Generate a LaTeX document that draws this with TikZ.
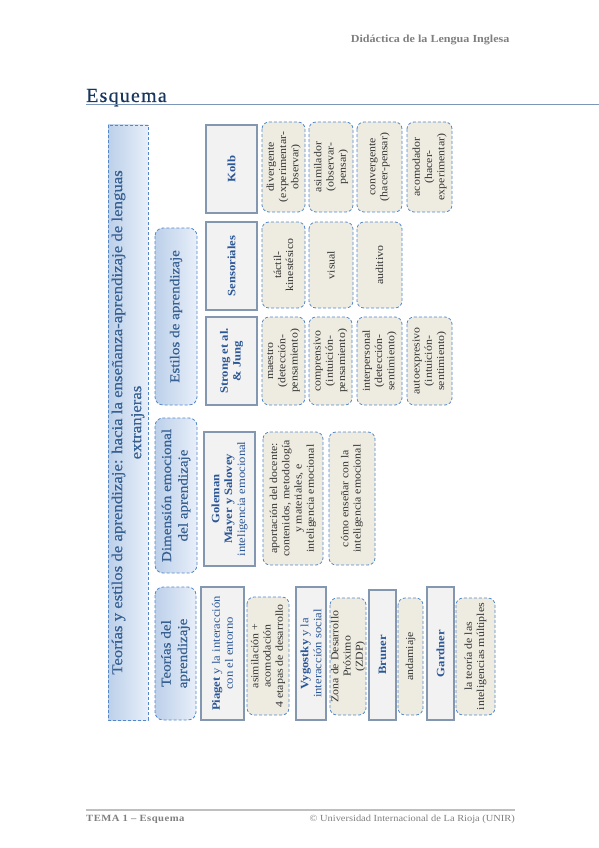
\documentclass[tikz,border=0pt]{standalone}
\usepackage{fontspec}
\setmainfont{Liberation Serif}[FakeStretch=1.12]
\newfontfamily\titulofont[LetterSpace=6,FakeBold=0.4]{Liberation Serif}
\newfontfamily\cabfont[FakeStretch=1.12,FakeBold=0.4]{Liberation Serif}
\newfontfamily\piefont[LetterSpace=5,FakeStretch=1.12]{Liberation Serif}
\definecolor{azultexto}{HTML}{366092}
\definecolor{azulfuerte}{HTML}{2B5797}
\definecolor{azulborde}{HTML}{5287CC}
\definecolor{grisborde}{HTML}{8497B0}
\definecolor{beige}{HTML}{EEECE1}
\definecolor{grisfondo}{HTML}{F2F2F2}
\definecolor{azulclaro}{HTML}{E8EFF9}
\definecolor{azulmedio}{HTML}{BCD0EA}
\definecolor{textogris}{HTML}{333333}
\definecolor{gristexto}{HTML}{7F7F7F}
\definecolor{grislinea}{HTML}{BFBFBF}
\definecolor{azullinea}{HTML}{7B96B8}
\definecolor{azultitulo}{HTML}{17375E}
\tikzset{
  caja/.style={rotate=90, inner sep=1pt, align=center},
  titulo/.style={caja, draw=azulborde, densely dashed, line width=0.8pt, left color=azulmedio, right color=azulclaro, text=azultexto, font=\cabfont\fontsize{15}{19}\selectfont},
  cabecera/.style={caja, draw=azulborde, densely dashed, line width=0.8pt, rounded corners=8pt, left color=azulmedio, right color=azulclaro, text=azultexto, font=\cabfont\fontsize{13.5}{16.5}\selectfont},
  autor/.style={caja, draw=grisborde, line width=1.1pt, fill=grisfondo, text=azulfuerte, font=\fontsize{11.3}{12.8}\selectfont},
  rasgo/.style={caja, draw=azulborde, densely dashed, line width=0.8pt, rounded corners=7pt, fill=beige, text=textogris, font=\fontsize{10.6}{12.2}\selectfont}
}
% estilo, nombre, x1, y1, x2, y2, texto
\newcommand\bloque[7]{\node[#1, minimum width={(#6-#4)*1pt}, minimum height={(#5-#3)*1pt}] (#2) at ({(#3+#5)/2}, {(#4+#6)/2}) {#7};}

\begin{document}
\begin{tikzpicture}[x=1pt, y=-1pt]
\useasboundingbox (0,0) rectangle (599,848);

% cabecera y pie de pagina
\node[anchor=east, text=gristexto, font=\bfseries\fontsize{10.8}{12}\selectfont] (materia) at (513,40) {Didáctica de la Lengua Inglesa};
\node[anchor=base west, inner sep=0pt, text=azultitulo, font=\titulofont\fontsize{20}{22}\selectfont] (esquema) at (86,102) {Esquema};
\draw[azullinea, line width=1.5pt] (86,104.5) -- (599,104.5);
\draw[grislinea, line width=1.5pt] (86,810) -- (515,810);
\node[anchor=west, inner sep=0pt, text=gristexto, font=\piefont\bfseries\fontsize{9.5}{12}\selectfont] (tema) at (86,819) {TEMA 1 – Esquema};
\node[anchor=east, inner sep=0pt, text=gristexto, font=\fontsize{9.3}{11}\selectfont] (unir) at (515,819) {© Universidad Internacional de La Rioja (UNIR)};

% titulo y apartados
\bloque{titulo}{tit}{108}{125}{148}{720}{Teorías y estilos de aprendizaje: hacia la enseñanza-aprendizaje de lenguas\\extranjeras}
\bloque{cabecera}{teo}{155}{587}{196}{720}{Teorías del\\aprendizaje}
\bloque{cabecera}{dim}{155}{418}{197}{573}{Dimensión emocional\\del aprendizaje}
\bloque{cabecera}{est}{155}{228}{197}{405}{Estilos de aprendizaje}

% autores
\bloque{autor}{kolb}{206}{125}{257}{213}{\bfseries Kolb}
\bloque{autor}{sens}{206}{222}{257}{310}{\bfseries Sensoriales}
\bloque{autor}{strong}{206}{317}{257}{405}{\bfseries Strong et al.\\\bfseries \& Jung}
\bloque{autor}{goleman}{204}{432}{255}{566}{\bfseries Goleman\\\bfseries Mayer y Salovey\\inteligencia emocional}
\bloque{autor}{piaget}{201}{587}{244}{720}{\textbf{Piaget} y la interacción\\con el entorno}
\bloque{autor}{vyg}{296}{587}{326}{720}{\textbf{Vygostky} y la\\interacción social}
\bloque{autor}{bruner}{369}{590}{396}{720}{\bfseries Bruner}
\bloque{autor}{gardner}{427}{587}{454}{720}{\bfseries Gardner}

% Kolb
\bloque{rasgo}{div}{262}{122}{305}{212}{divergente\\(experimentar-\\observar)}
\bloque{rasgo}{asi}{309}{122}{353}{212}{asimilador\\(observar-\\pensar)}
\bloque{rasgo}{conv}{357}{122}{402}{212}{convergente\\(hacer-pensar)}
\bloque{rasgo}{acom}{407}{122}{452}{212}{acomodador\\(hacer-\\experimentar)}
% sensoriales
\bloque{rasgo}{tact}{262}{222}{305}{308}{táctil-\\kinestésico}
\bloque{rasgo}{vis}{309}{222}{353}{308}{visual}
\bloque{rasgo}{aud}{357}{222}{402}{308}{auditivo}
% Strong y Jung
\bloque{rasgo}{mae}{262}{317}{305}{405}{maestro\\(detección-\\pensamiento)}
\bloque{rasgo}{comp}{309}{317}{352}{405}{comprensivo\\(intuición-\\pensamiento)}
\bloque{rasgo}{inter}{357}{317}{402}{405}{interpersonal\\(detección-\\sentimiento)}
\bloque{rasgo}{auto}{407}{317}{452}{405}{autoexpresivo\\(intuición-\\sentimiento)}
% dimension emocional
\bloque{rasgo}{apor}{263}{432}{323}{565}{aportación del docente:\\contenidos, metodología\\y materiales, e\\inteligencia emocional}
\bloque{rasgo}{como}{329}{432}{375}{565}{cómo enseñar con la\\inteligencia emocional}
% teorias
\bloque{rasgo}{asim}{247}{597}{289}{715}{asimilación +\\acomodación\\4 etapas de desarrollo}
\bloque{rasgo}{zdp}{330}{598}{366}{715}{Zona de Desarrollo\\Próximo\\(ZDP)}
\bloque{rasgo}{anda}{398}{598}{423}{715}{andamiaje}
\bloque{rasgo}{multi}{456}{598}{495}{715}{la teoría de las\\inteligencias múltiples}
\end{tikzpicture}
\end{document}
